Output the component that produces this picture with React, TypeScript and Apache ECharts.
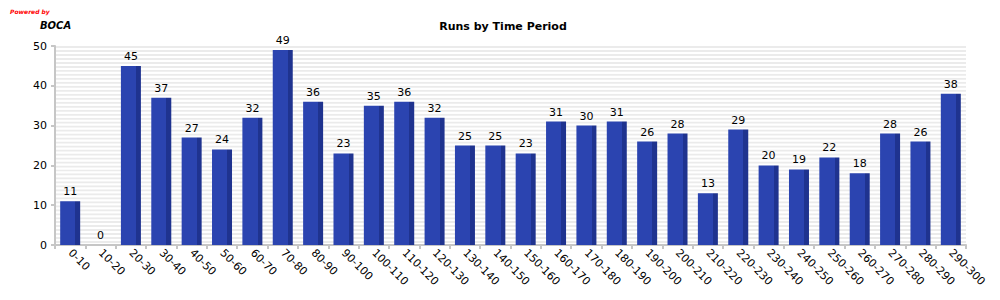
import React, { useEffect, useRef } from "react";
import * as echarts from "echarts";

const categories = [
  "0-10", "10-20", "20-30", "30-40", "40-50", "50-60", "60-70", "70-80", "80-90", "90-100",
  "100-110", "110-120", "120-130", "130-140", "140-150", "150-160", "160-170", "170-180", "180-190", "190-200",
  "200-210", "210-220", "220-230", "230-240", "240-250", "250-260", "260-270", "270-280", "280-290", "290-300",
];
const runs = [11, 0, 45, 37, 27, 24, 32, 49, 36, 23, 35, 36, 32, 25, 25, 23, 31, 30, 31, 26, 28, 13, 29, 20, 19, 22, 18, 28, 26, 38];
const yTicks = { min: 0, max: 50, interval: 10 };

const FONT = "DejaVu Sans";

export default function App() {
  const ref = useRef<HTMLDivElement>(null);
  useEffect(() => {
    if (!ref.current) return;
    const chart = echarts.init(ref.current, null, { renderer: "svg" });
    const barColor = new echarts.graphic.LinearGradient(0, 0, 1, 0, [
      { offset: 0, color: "#2b44b0" },
      { offset: 0.76, color: "#2b44b0" },
      { offset: 0.76, color: "#1f338f" },
      { offset: 1, color: "#1f338f" },
    ]);
    chart.setOption({
      animation: false,
      backgroundColor: "#ffffff",
      textStyle: { fontFamily: FONT },
      title: {
        text: "Runs by Time Period",
        left: 498,
        top: 16,
        textAlign: "center",
        textStyle: { fontFamily: FONT, fontSize: 11, fontWeight: "bold", color: "#000" },
      },
      graphic: [
        {
          type: "text",
          left: 10,
          top: 8,
          style: { text: "Powered by", fill: "#ff0000", font: `italic bold 6px ${FONT}` },
        },
        {
          type: "text",
          left: 40,
          top: 20,
          style: { text: "BOCA", fill: "#000", font: `italic bold 10px ${FONT}` },
        },
      ],
      grid: { left: 55, right: 34, top: 46, bottom: 55, containLabel: false },
      xAxis: {
        type: "category",
        data: categories,
        axisLine: { lineStyle: { color: "#c6c6c6", width: 2 } },
        axisTick: { show: true, length: 4, lineStyle: { color: "#c6c6c6", width: 2 } },
        axisLabel: {
          rotate: -45,
          interval: 0,
          fontFamily: FONT,
          fontSize: 11,
          color: "#000",
          margin: 6,
        },
      },
      yAxis: [
        {
          type: "value",
          min: yTicks.min,
          max: yTicks.max,
          interval: yTicks.interval,
          axisLine: { show: true, lineStyle: { color: "#c6c6c6", width: 2 } },
          axisTick: { show: true, length: 4, lineStyle: { color: "#c6c6c6", width: 2 } },
          axisLabel: { fontFamily: FONT, fontSize: 11, color: "#000", margin: 8 },
          splitLine: { show: false },
        },
        {
          type: "value",
          min: 0,
          max: 50,
          interval: 0.5,
          position: "left",
          axisLine: { show: false },
          axisTick: { show: false },
          axisLabel: { show: false },
          splitLine: { show: false },
          splitArea: { show: true, areaStyle: { color: ["#ffffff", "#ebebeb"] } },
        },
      ],
      series: [
        {
          type: "bar",
          data: runs,
          barWidth: 20,
          yAxisIndex: 0,
          itemStyle: { color: barColor },
          label: {
            show: true,
            position: "top",
            fontFamily: FONT,
            fontSize: 11,
            color: "#000",
            distance: 4,
          },
        },
      ],
    });
    return () => chart.dispose();
  }, []);
  return (
    <div
      ref={ref}
      style={{ position: "fixed", left: 0, top: 0, width: 1000, height: 300 }}
    />
  );
}
